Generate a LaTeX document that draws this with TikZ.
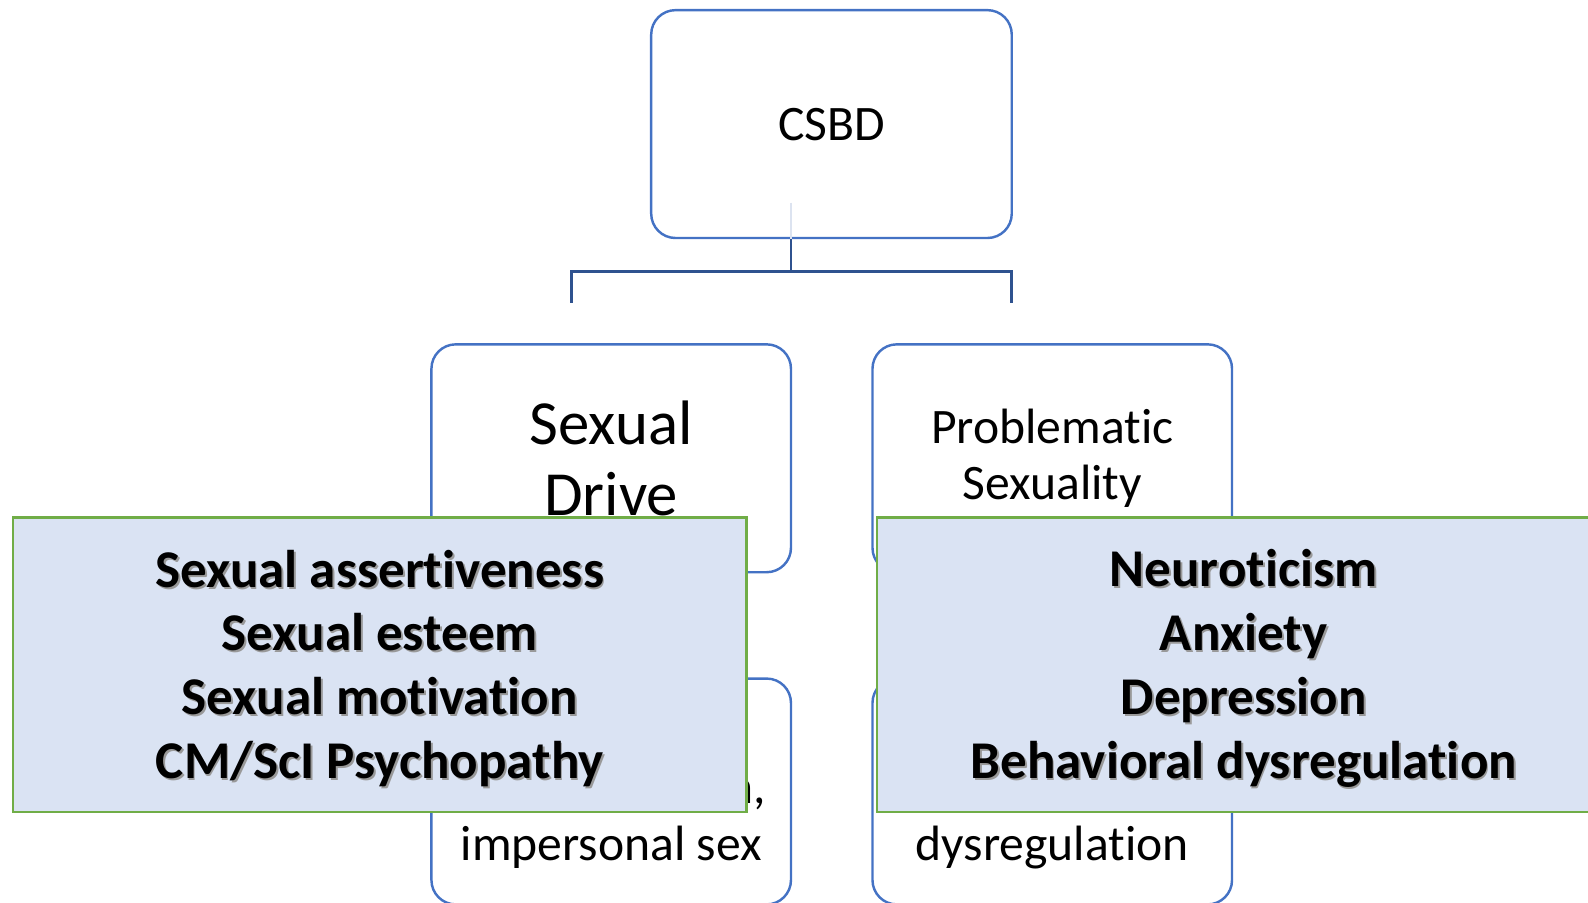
\documentclass[tikz,border=0pt]{standalone}
\usepackage{fontspec}
\setmainfont{Carlito}[Ligatures=NoCommon]
\definecolor{boxblue}{HTML}{4472C4}
\definecolor{linkblue}{HTML}{2F528F}
\definecolor{fadeblue}{HTML}{DCE3F0}
\definecolor{notefill}{HTML}{DAE3F3}
\definecolor{notegreen}{HTML}{70AD47}

\begin{document}
\begin{tikzpicture}[x=0.5pt,y=-0.5pt,
  level/.style={draw=boxblue, line width=1.2pt, rounded corners=12pt, fill=white,
                minimum width=177.5pt, minimum height=112.5pt, inner sep=0pt, align=center},
  note/.style={draw=notegreen, line width=1.1pt, fill=notefill,
               minimum width=362pt, minimum height=145.5pt, inner sep=0pt},
  notetext/.style={align=center, inner sep=0pt,
                   font=\fontsize{26.2pt}{31.5pt}\selectfont\bfseries},
  shade/.style={notetext, text=black!40, xshift=0.9pt, yshift=-0.9pt},
  plain/.style={inner sep=0pt, font=\fontsize{24.5pt}{28pt}\selectfont},
  link/.style={draw=linkblue, line width=1.3pt},
]
\useasboundingbox (0,0) rectangle (1568,891);
\clip (0,0) rectangle (1568,891);

% top of the hierarchy
\node[level, minimum width=178pt, font=\fontsize{24.5pt}{28pt}\selectfont]
  (csbd) at (821,122.5) {CSBD};

% bracket joining the two branches
\coordinate (stemtop) at (781,200);
\coordinate (hub) at (781,268);
\coordinate (leftdrop) at (564,299);
\coordinate (rightdrop) at (999,299);
\draw[fadeblue, line width=1.3pt] (stemtop) -- (csbd.south -| hub);
\draw[link] (csbd.south -| hub) -- (hub);
\draw[link] (leftdrop) |- (hub) -| (rightdrop);

% second level
\node[level, font=\fontsize{31pt}{35pt}\selectfont]
  (drive) at (603.5,452.5) {Sexual\\Drive};
\node[level, font=\fontsize{24.5pt}{27.5pt}\selectfont]
  (problem) at (1039,452.5) {Problematic\\Sexuality};

% third level
\node[level, minimum height=111.5pt] (lowleft) at (603.5,781.5) {};
\node[level, minimum height=111.5pt] (lowright) at (1039,781.5) {};
\node[plain, anchor=base east] (lowlefttail) at (757,793) {n,};
\node[plain, anchor=base] (lowlefttext) at (603.5,850) {impersonal sex};
\node[plain, anchor=base] (lowrighttext) at (1039,850) {dysregulation};

% overlaid trait lists
\node[note] (drivenote) at (375,656.5) {};
\node[shade] (driveshade) at (375,660) {Sexual assertiveness\\Sexual esteem\\Sexual motivation\\CM/ScI Psychopathy};
\node[notetext] (drivelist) at (375,660) {Sexual assertiveness\\Sexual esteem\\Sexual motivation\\CM/ScI Psychopathy};

\node[note] (problemnote) at (1228,656.5) {};
\node[shade] (problemshade) at (1228,660) {Neuroticism\\Anxiety\\Depression\\Behavioral dysregulation};
\node[notetext] (problemlist) at (1228,660) {Neuroticism\\Anxiety\\Depression\\Behavioral dysregulation};
\end{tikzpicture}
\end{document}
